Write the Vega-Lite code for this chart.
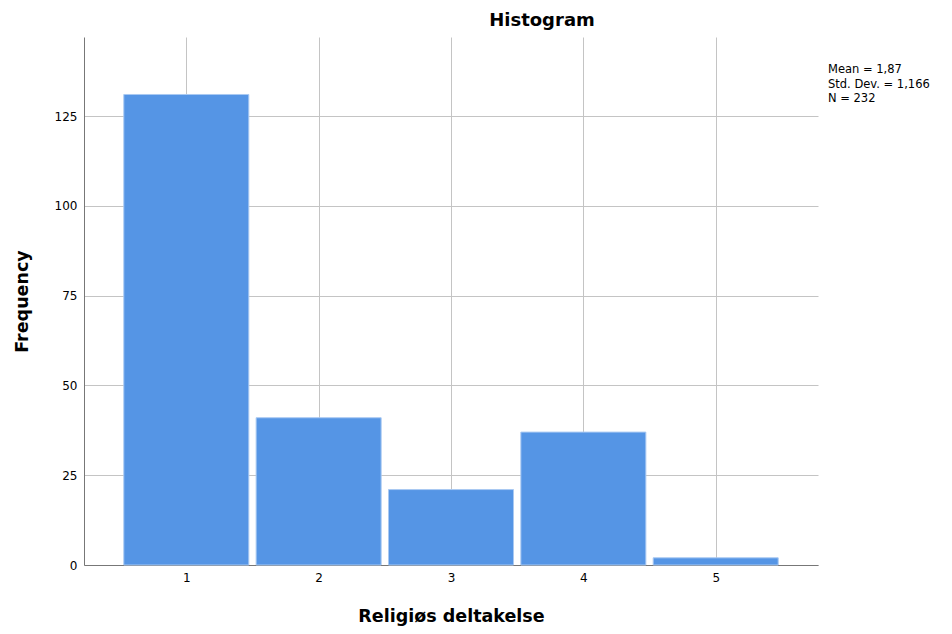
{
  "$schema": "https://vega.github.io/schema/vega-lite/v6.json",
  "width": 734,
  "height": 528,
  "autosize": {"type": "none"},
  "padding": {"left": 84, "top": 37, "right": 134, "bottom": 69},
  "background": "white",
  "title": {
    "text": "Histogram",
    "anchor": "middle",
    "dx": 91,
    "offset": 7,
    "font": "DejaVu Sans",
    "fontSize": 18,
    "fontWeight": "bold",
    "color": "#000000"
  },
  "config": {
    "view": {"stroke": null},
    "font": "DejaVu Sans"
  },
  "data": {
    "values": [
      {"value": 1, "frequency": 131},
      {"value": 2, "frequency": 41},
      {"value": 3, "frequency": 21},
      {"value": 4, "frequency": 37},
      {"value": 5, "frequency": 2}
    ]
  },
  "layer": [
    {
      "mark": {"type": "bar", "size": 125, "color": "#5595E5", "stroke": "#a9c9f2", "strokeWidth": 1},
      "encoding": {
        "x": {
          "field": "value",
          "type": "quantitative",
          "scale": {"domain": [0.227, 5.773], "nice": false, "zero": false, "padding": 0},
          "axis": {
            "values": [1, 2, 3, 4, 5],
            "format": "d",
            "title": "Religiøs deltakelse",
            "titleFont": "DejaVu Sans",
            "titleFontSize": 17.5,
            "titleFontWeight": "bold",
            "titleColor": "#000000",
            "titlePadding": 24,
            "labelFont": "DejaVu Sans",
            "labelFontSize": 12,
            "labelColor": "#000000",
            "labelPadding": 7,
            "ticks": false,
            "domainColor": "#777777",
            "domainWidth": 1,
            "grid": true,
            "gridColor": "#c4c4c4",
            "gridWidth": 1
          }
        },
        "y": {
          "field": "frequency",
          "type": "quantitative",
          "scale": {"domain": [0, 147], "nice": false, "padding": 0},
          "axis": {
            "values": [0, 25, 50, 75, 100, 125],
            "title": "Frequency",
            "titleFont": "DejaVu Sans",
            "titleFontSize": 17.5,
            "titleFontWeight": "bold",
            "titleColor": "#000000",
            "titlePadding": 23,
            "labelFont": "DejaVu Sans",
            "labelFontSize": 12,
            "labelColor": "#000000",
            "labelPadding": 7,
            "ticks": false,
            "domainColor": "#777777",
            "domainWidth": 1,
            "grid": true,
            "gridColor": "#c4c4c4",
            "gridWidth": 1
          }
        }
      }
    },
    {
      "data": {"values": [{"lines": ["Mean = 1,87", "Std. Dev. = 1,166", "N = 232"]}]},
      "mark": {"type": "text", "align": "left", "baseline": "top", "font": "DejaVu Sans", "fontSize": 11.5, "lineHeight": 14.5, "color": "#000000", "dx": 10, "dy": 27},
      "encoding": {
        "x": {"datum": 5.773, "type": "quantitative"},
        "y": {"datum": 147, "type": "quantitative"},
        "text": {"field": "lines"}
      }
    }
  ]
}
